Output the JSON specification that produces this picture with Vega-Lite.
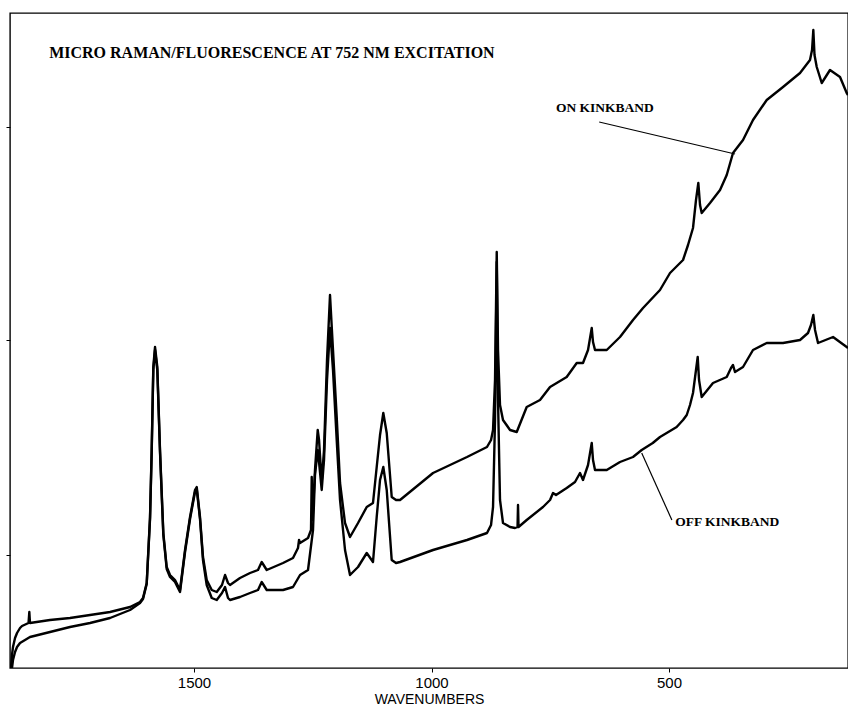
{
  "$schema": "https://vega.github.io/schema/vega-lite/v6.json",
  "width": 838,
  "height": 655,
  "autosize": {"type": "none"},
  "padding": {"left": 10, "top": 13, "right": 0, "bottom": 43},
  "background": "white",
  "config": {
    "view": {"stroke": "black", "strokeWidth": 1.4},
    "axis": {"grid": false, "domain": false, "tickColor": "black", "tickWidth": 1, "tickSize": 4}
  },
  "datasets": {
    "spectra": [
      {"s":"ON","w":1885.3,"v":0},{"s":"ON","w":1883.2,"v":13},{"s":"ON","w":1881.1,"v":21},{"s":"ON","w":1876.8,"v":30},{"s":"ON","w":1872.6,"v":35},{"s":"ON","w":1866.3,"v":40},{"s":"ON","w":1862.1,"v":42},{"s":"ON","w":1848.4,"v":45},{"s":"ON","w":1846.7,"v":56},{"s":"ON","w":1845.3,"v":45},{"s":"ON","w":1803.2,"v":48},{"s":"ON","w":1761.1,"v":50},{"s":"ON","w":1718.9,"v":53},{"s":"ON","w":1676.8,"v":56},{"s":"ON","w":1634.7,"v":61},{"s":"ON","w":1613.7,"v":66},{"s":"ON","w":1607.4,"v":70},{"s":"ON","w":1599.6,"v":85},{"s":"ON","w":1592.6,"v":151},{"s":"ON","w":1589.1,"v":218},{"s":"ON","w":1585.7,"v":301},{"s":"ON","w":1582.1,"v":321},{"s":"ON","w":1577.3,"v":301},{"s":"ON","w":1571.6,"v":218},{"s":"ON","w":1564.6,"v":135},{"s":"ON","w":1557.5,"v":101},{"s":"ON","w":1550.5,"v":93},{"s":"ON","w":1540.0,"v":88},{"s":"ON","w":1529.5,"v":78},{"s":"ON","w":1518.9,"v":118},{"s":"ON","w":1508.4,"v":151},{"s":"ON","w":1497.9,"v":178},{"s":"ON","w":1494.3,"v":181},{"s":"ON","w":1487.4,"v":151},{"s":"ON","w":1481.1,"v":111},{"s":"ON","w":1473.3,"v":88},{"s":"ON","w":1462.7,"v":78},{"s":"ON","w":1452.2,"v":76},{"s":"ON","w":1441.1,"v":83},{"s":"ON","w":1434.7,"v":93},{"s":"ON","w":1428.4,"v":85},{"s":"ON","w":1424.2,"v":83},{"s":"ON","w":1403.2,"v":90},{"s":"ON","w":1382.1,"v":95},{"s":"ON","w":1365.3,"v":98},{"s":"ON","w":1357.5,"v":106},{"s":"ON","w":1346.9,"v":98},{"s":"ON","w":1312.6,"v":105},{"s":"ON","w":1291.6,"v":110},{"s":"ON","w":1281.1,"v":120},{"s":"ON","w":1278.9,"v":128},{"s":"ON","w":1276.8,"v":125},{"s":"ON","w":1260.0,"v":130},{"s":"ON","w":1253.7,"v":138},{"s":"ON","w":1252.2,"v":191},{"s":"ON","w":1250.5,"v":148},{"s":"ON","w":1245.3,"v":198},{"s":"ON","w":1239.6,"v":238},{"s":"ON","w":1236.8,"v":228},{"s":"ON","w":1231.2,"v":186},{"s":"ON","w":1226.3,"v":218},{"s":"ON","w":1220.0,"v":308},{"s":"ON","w":1213.7,"v":373},{"s":"ON","w":1207.4,"v":318},{"s":"ON","w":1199.6,"v":251},{"s":"ON","w":1192.6,"v":185},{"s":"ON","w":1182.1,"v":145},{"s":"ON","w":1171.6,"v":131},{"s":"ON","w":1154.7,"v":145},{"s":"ON","w":1136.4,"v":161},{"s":"ON","w":1123.2,"v":165},{"s":"ON","w":1115.4,"v":201},{"s":"ON","w":1108.4,"v":233},{"s":"ON","w":1101.5,"v":255},{"s":"ON","w":1094.3,"v":235},{"s":"ON","w":1083.8,"v":171},{"s":"ON","w":1074.7,"v":168},{"s":"ON","w":1066.3,"v":168},{"s":"ON","w":996.8,"v":195},{"s":"ON","w":925.3,"v":211},{"s":"ON","w":883.2,"v":221},{"s":"ON","w":874.7,"v":228},{"s":"ON","w":870.5,"v":238},{"s":"ON","w":866.3,"v":288},{"s":"ON","w":862.7,"v":416},{"s":"ON","w":860.0,"v":318},{"s":"ON","w":855.8,"v":263},{"s":"ON","w":849.5,"v":248},{"s":"ON","w":834.7,"v":238},{"s":"ON","w":820.6,"v":236},{"s":"ON","w":799.6,"v":261},{"s":"ON","w":771.6,"v":268},{"s":"ON","w":750.5,"v":281},{"s":"ON","w":715.4,"v":291},{"s":"ON","w":694.3,"v":305},{"s":"ON","w":681.1,"v":305},{"s":"ON","w":670.5,"v":318},{"s":"ON","w":662.7,"v":340},{"s":"ON","w":660.0,"v":326},{"s":"ON","w":655.8,"v":318},{"s":"ON","w":631.1,"v":318},{"s":"ON","w":603.2,"v":331},{"s":"ON","w":575.8,"v":348},{"s":"ON","w":554.7,"v":360},{"s":"ON","w":519.0,"v":378},{"s":"ON","w":497.9,"v":395},{"s":"ON","w":470.5,"v":408},{"s":"ON","w":460.0,"v":423},{"s":"ON","w":449.5,"v":440},{"s":"ON","w":443.2,"v":468},{"s":"ON","w":438.3,"v":485},{"s":"ON","w":434.7,"v":463},{"s":"ON","w":431.2,"v":455},{"s":"ON","w":413.7,"v":465},{"s":"ON","w":392.6,"v":478},{"s":"ON","w":378.5,"v":493},{"s":"ON","w":365.3,"v":515},{"s":"ON","w":344.2,"v":528},{"s":"ON","w":323.2,"v":548},{"s":"ON","w":294.3,"v":568},{"s":"ON","w":260.0,"v":581},{"s":"ON","w":224.2,"v":595},{"s":"ON","w":203.2,"v":608},{"s":"ON","w":198.9,"v":618},{"s":"ON","w":196.2,"v":638},{"s":"ON","w":193.7,"v":613},{"s":"ON","w":189.0,"v":601},{"s":"ON","w":178.5,"v":585},{"s":"ON","w":161.1,"v":598},{"s":"ON","w":140.0,"v":591},{"s":"ON","w":125.9,"v":575},{"s":"ON","w":123.2,"v":573},
      {"s":"OFF","w":1883.2,"v":0},{"s":"OFF","w":1881.1,"v":8},{"s":"OFF","w":1876.8,"v":16},{"s":"OFF","w":1872.6,"v":21},{"s":"OFF","w":1866.3,"v":25},{"s":"OFF","w":1855.8,"v":28},{"s":"OFF","w":1845.3,"v":31},{"s":"OFF","w":1803.2,"v":36},{"s":"OFF","w":1761.1,"v":41},{"s":"OFF","w":1718.9,"v":45},{"s":"OFF","w":1676.8,"v":50},{"s":"OFF","w":1634.7,"v":58},{"s":"OFF","w":1613.7,"v":65},{"s":"OFF","w":1607.4,"v":69},{"s":"OFF","w":1599.6,"v":84},{"s":"OFF","w":1592.6,"v":149},{"s":"OFF","w":1589.1,"v":216},{"s":"OFF","w":1585.7,"v":298},{"s":"OFF","w":1582.1,"v":318},{"s":"OFF","w":1577.3,"v":298},{"s":"OFF","w":1571.6,"v":216},{"s":"OFF","w":1564.6,"v":133},{"s":"OFF","w":1557.5,"v":99},{"s":"OFF","w":1550.5,"v":91},{"s":"OFF","w":1540.0,"v":86},{"s":"OFF","w":1529.5,"v":76},{"s":"OFF","w":1518.9,"v":116},{"s":"OFF","w":1508.4,"v":149},{"s":"OFF","w":1497.9,"v":176},{"s":"OFF","w":1494.3,"v":179},{"s":"OFF","w":1487.4,"v":149},{"s":"OFF","w":1481.1,"v":108},{"s":"OFF","w":1473.3,"v":83},{"s":"OFF","w":1462.7,"v":70},{"s":"OFF","w":1452.2,"v":68},{"s":"OFF","w":1441.1,"v":75},{"s":"OFF","w":1434.7,"v":81},{"s":"OFF","w":1428.4,"v":70},{"s":"OFF","w":1424.2,"v":68},{"s":"OFF","w":1403.2,"v":71},{"s":"OFF","w":1382.1,"v":75},{"s":"OFF","w":1365.3,"v":78},{"s":"OFF","w":1357.5,"v":86},{"s":"OFF","w":1346.9,"v":78},{"s":"OFF","w":1312.6,"v":78},{"s":"OFF","w":1291.6,"v":81},{"s":"OFF","w":1276.8,"v":93},{"s":"OFF","w":1260.0,"v":98},{"s":"OFF","w":1249.5,"v":138},{"s":"OFF","w":1245.3,"v":193},{"s":"OFF","w":1239.6,"v":218},{"s":"OFF","w":1236.8,"v":206},{"s":"OFF","w":1231.2,"v":178},{"s":"OFF","w":1226.3,"v":208},{"s":"OFF","w":1220.0,"v":288},{"s":"OFF","w":1213.7,"v":340},{"s":"OFF","w":1207.4,"v":298},{"s":"OFF","w":1199.6,"v":228},{"s":"OFF","w":1192.6,"v":168},{"s":"OFF","w":1182.1,"v":118},{"s":"OFF","w":1171.6,"v":93},{"s":"OFF","w":1154.7,"v":101},{"s":"OFF","w":1136.4,"v":115},{"s":"OFF","w":1123.2,"v":106},{"s":"OFF","w":1115.4,"v":151},{"s":"OFF","w":1108.4,"v":188},{"s":"OFF","w":1101.5,"v":201},{"s":"OFF","w":1094.3,"v":178},{"s":"OFF","w":1083.8,"v":108},{"s":"OFF","w":1074.7,"v":105},{"s":"OFF","w":1066.3,"v":106},{"s":"OFF","w":996.8,"v":118},{"s":"OFF","w":925.3,"v":128},{"s":"OFF","w":883.2,"v":135},{"s":"OFF","w":874.7,"v":143},{"s":"OFF","w":870.5,"v":161},{"s":"OFF","w":866.3,"v":248},{"s":"OFF","w":862.7,"v":406},{"s":"OFF","w":860.0,"v":268},{"s":"OFF","w":855.8,"v":168},{"s":"OFF","w":849.5,"v":145},{"s":"OFF","w":834.7,"v":141},{"s":"OFF","w":824.2,"v":140},{"s":"OFF","w":818.9,"v":141},{"s":"OFF","w":817.9,"v":163},{"s":"OFF","w":816.8,"v":141},{"s":"OFF","w":799.6,"v":148},{"s":"OFF","w":765.3,"v":161},{"s":"OFF","w":750.5,"v":168},{"s":"OFF","w":744.2,"v":175},{"s":"OFF","w":737.9,"v":173},{"s":"OFF","w":715.4,"v":180},{"s":"OFF","w":697.9,"v":186},{"s":"OFF","w":687.4,"v":195},{"s":"OFF","w":681.1,"v":188},{"s":"OFF","w":670.5,"v":203},{"s":"OFF","w":662.7,"v":225},{"s":"OFF","w":660.0,"v":208},{"s":"OFF","w":655.8,"v":198},{"s":"OFF","w":631.1,"v":198},{"s":"OFF","w":603.2,"v":206},{"s":"OFF","w":575.8,"v":211},{"s":"OFF","w":557.5,"v":218},{"s":"OFF","w":534.2,"v":225},{"s":"OFF","w":519.0,"v":231},{"s":"OFF","w":483.9,"v":241},{"s":"OFF","w":470.5,"v":248},{"s":"OFF","w":462.7,"v":253},{"s":"OFF","w":455.8,"v":263},{"s":"OFF","w":449.5,"v":275},{"s":"OFF","w":443.2,"v":298},{"s":"OFF","w":439.6,"v":311},{"s":"OFF","w":436.8,"v":288},{"s":"OFF","w":431.2,"v":271},{"s":"OFF","w":407.4,"v":285},{"s":"OFF","w":378.5,"v":291},{"s":"OFF","w":369.5,"v":300},{"s":"OFF","w":365.3,"v":303},{"s":"OFF","w":361.1,"v":296},{"s":"OFF","w":344.2,"v":301},{"s":"OFF","w":323.2,"v":318},{"s":"OFF","w":294.3,"v":325},{"s":"OFF","w":260.0,"v":325},{"s":"OFF","w":224.2,"v":328},{"s":"OFF","w":207.4,"v":335},{"s":"OFF","w":201.1,"v":343},{"s":"OFF","w":196.2,"v":353},{"s":"OFF","w":192.6,"v":338},{"s":"OFF","w":186.3,"v":325},{"s":"OFF","w":154.7,"v":331},{"s":"OFF","w":125.9,"v":321},{"s":"OFF","w":123.2,"v":320}
    ],
    "labels": [
      {"w": 1805, "v": 615, "t": "MICRO RAMAN/FLUORESCENCE AT 752 NM EXCITATION", "k": "title"},
      {"w": 738, "v": 560, "t": "ON KINKBAND", "k": "label"},
      {"w": 487, "v": 146, "t": "OFF KINKBAND", "k": "label"}
    ],
    "leaders": [
      {"w": 647, "v": 546, "w2": 361, "v2": 514},
      {"w": 557.5, "v": 215, "w2": 494, "v2": 148}
    ]
  },
  "layer": [
    {
      "data": {"name": "spectra"},
      "mark": {"type": "line", "color": "black", "strokeWidth": 2.4, "clip": true, "strokeJoin": "round"},
      "encoding": {
        "x": {
          "field": "w", "type": "quantitative",
          "scale": {"domain": [123.2, 1887.4], "reverse": true, "nice": false, "zero": false},
          "axis": {
            "values": [1500, 1000, 500],
            "format": "d",
            "title": "WAVENUMBERS",
            "titleFont": "Liberation Sans", "titleFontSize": 14, "titleFontWeight": "normal", "titleColor": "black",
            "titlePadding": 2,
            "labelFont": "Liberation Sans", "labelFontSize": 15, "labelColor": "black", "labelPadding": 3
          }
        },
        "y": {
          "field": "v", "type": "quantitative",
          "scale": {"domain": [0, 655], "nice": false, "zero": false},
          "axis": {"values": [113, 328, 541], "labels": false, "title": null}
        },
        "detail": {"field": "s", "type": "nominal"}
      }
    },
    {
      "data": {"name": "leaders"},
      "mark": {"type": "rule", "color": "black", "strokeWidth": 1.2},
      "encoding": {
        "x": {"field": "w", "type": "quantitative"},
        "y": {"field": "v", "type": "quantitative"},
        "x2": {"field": "w2"},
        "y2": {"field": "v2"}
      }
    },
    {
      "data": {"name": "labels"},
      "mark": {"type": "text", "align": "left", "baseline": "middle", "font": "Liberation Serif", "fontWeight": "bold", "color": "black"},
      "encoding": {
        "x": {"field": "w", "type": "quantitative"},
        "y": {"field": "v", "type": "quantitative"},
        "text": {"field": "t", "type": "nominal"},
        "size": {"field": "k", "type": "nominal", "scale": {"domain": ["title", "label"], "range": [16, 13.5]}, "legend": null}
      }
    }
  ]
}
